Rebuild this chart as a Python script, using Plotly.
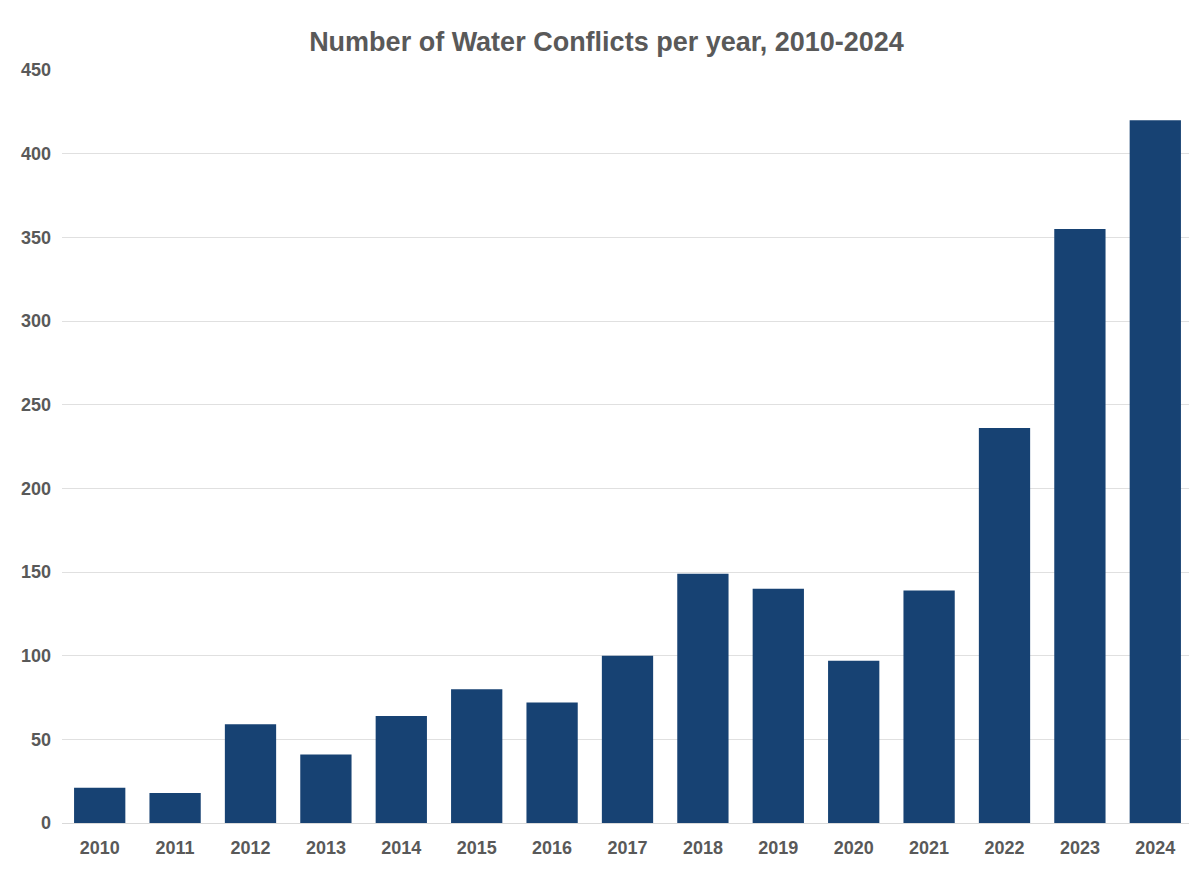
import plotly.graph_objects as go

years = [str(y) for y in range(2010, 2025)]
conflicts = [21, 18, 59, 41, 64, 80, 72, 100, 149, 140, 97, 139, 236, 355, 420]

fig = go.Figure(go.Bar(x=years, y=conflicts, marker_color="#174273", marker_line_width=0))
fig.update_layout(
    width=1197, height=871,
    paper_bgcolor="white", plot_bgcolor="white",
    margin=dict(l=54, r=12, t=62, b=56),
    bargap=0.32,
    title=dict(text="<b>Number of Water Conflicts per year, 2010-2024</b>", x=0.5, y=0.972, xanchor="center",
               font=dict(family="Liberation Sans, Arial", size=27, color="#595959")),
    font=dict(family="Liberation Sans, Arial", size=18, color="#595959"),
    showlegend=False,
)
fig.update_xaxes(showgrid=False, showline=True, linecolor="#d9d9d9", ticks="outside", ticklen=8, tickcolor="white",
                 tickfont=dict(size=18, color="#595959", weight="bold"))
fig.update_yaxes(range=[0, 450], dtick=50, gridcolor="#e0e0e0", zeroline=False, showline=False,
                 ticksuffix="  ", tickfont=dict(size=18, color="#595959", weight="bold"))
fig.write_html("out.html")
